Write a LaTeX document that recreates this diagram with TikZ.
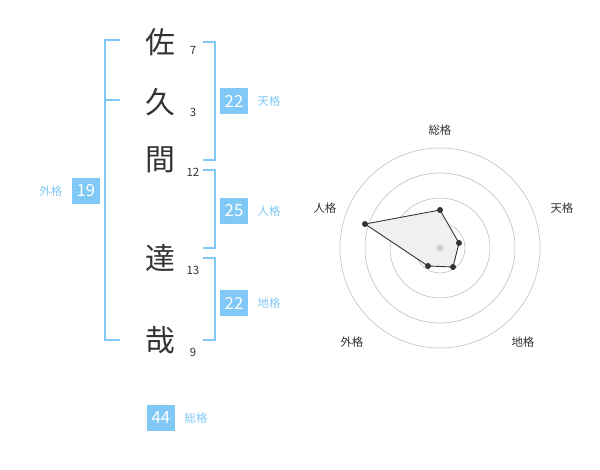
\documentclass[tikz,border=0pt]{standalone}
\usepackage{fontspec}
\setmainfont{Noto Sans CJK JP}
\usetikzlibrary{positioning}
\definecolor{kakublue}{HTML}{80C8F6}
\definecolor{kakutext}{HTML}{333333}
\begin{document}
\begin{tikzpicture}[
    x = 0.02cm, y = -0.02cm, % pixel grid
    kanji/.style = {text = kakutext, font = \fontsize{17}{17}\selectfont},
    stroke/.style = {text = kakutext, font = \fontsize{6.5}{7}\selectfont},
    kbox/.style = {fill = kakublue, text = white, minimum width = 15.5pt,
                   minimum height = 14.5pt, inner sep = 0pt, font = \fontsize{9.5}{10}\selectfont},
    klabel/.style = {text = kakublue, font = \fontsize{6.5}{7}\selectfont},
    rlabel/.style = {text = kakutext, font = \fontsize{6.5}{7}\selectfont},
    brace/.style = {draw = kakublue, line width = 1pt},
    ring/.style = {draw = gray!45, line width = 0.4pt}
    ]
    \useasboundingbox (0,0) rectangle (600,470);

    % name
    \node[kanji] (c1) at (160,42) {佐};
    \node[kanji] (c2) at (160,102) {久};
    \node[kanji] (c3) at (160,160) {間};
    \node[kanji] (c4) at (160,258) {達};
    \node[kanji] (c5) at (160,340) {哉};
    \node[stroke] (s1) at (193,50) {7};
    \node[stroke] (s2) at (193,112) {3};
    \node[stroke] (s3) at (193,172) {12};
    \node[stroke] (s4) at (193,270) {13};
    \node[stroke] (s5) at (193,352) {9};

    % brackets
    \draw[brace] (120,40) -- (105,40) -- (105,340) -- (120,340);
    \draw[brace] (105,100) -- (120,100);
    \draw[brace] (203,42) -- (215,42) -- (215,160) -- (203,160);
    \draw[brace] (203,170) -- (215,170) -- (215,248) -- (203,248);
    \draw[brace] (203,258) -- (215,258) -- (215,340) -- (203,340);

    % scores
    \node[kbox] (gai) at (86,191) {19};
    \node[klabel, left=2pt of gai] {外格};
    \node[kbox] (ten) at (234,101) {22};
    \node[klabel, right=2pt of ten] {天格};
    \node[kbox] (jin) at (234,211) {25};
    \node[klabel, right=2pt of jin] {人格};
    \node[kbox] (chi) at (234,303) {22};
    \node[klabel, right=2pt of chi] {地格};
    \node[kbox] (sou) at (161,418) {44};
    \node[klabel, right=2pt of sou] {総格};

    % radar
    \foreach \r in {25,50,75,100}
        \draw[ring] (440,248) circle (\r);
    \coordinate (p1) at (440,210);
    \coordinate (p2) at (459,243);
    \coordinate (p3) at (453,267);
    \coordinate (p4) at (428,266);
    \coordinate (p5) at (365,224);
    \fill[gray!12] (p1) -- (p2) -- (p3) -- (p4) -- (p5) -- cycle;
    \draw[kakutext, line width = 0.5pt] (p1) -- (p2) -- (p3) -- (p4) -- (p5) -- cycle;
    \foreach \p in {p1,p2,p3,p4,p5}
        \fill[kakutext] (\p) circle (3);
    \fill[gray!40] (440,248) circle (3.5);
    \node[rlabel] (r1) at (440,130) {総格};
    \node[rlabel] (r2) at (562,208) {天格};
    \node[rlabel] (r3) at (523,342) {地格};
    \node[rlabel] (r4) at (352,342) {外格};
    \node[rlabel] (r5) at (325,208) {人格};
\end{tikzpicture}
\end{document}
